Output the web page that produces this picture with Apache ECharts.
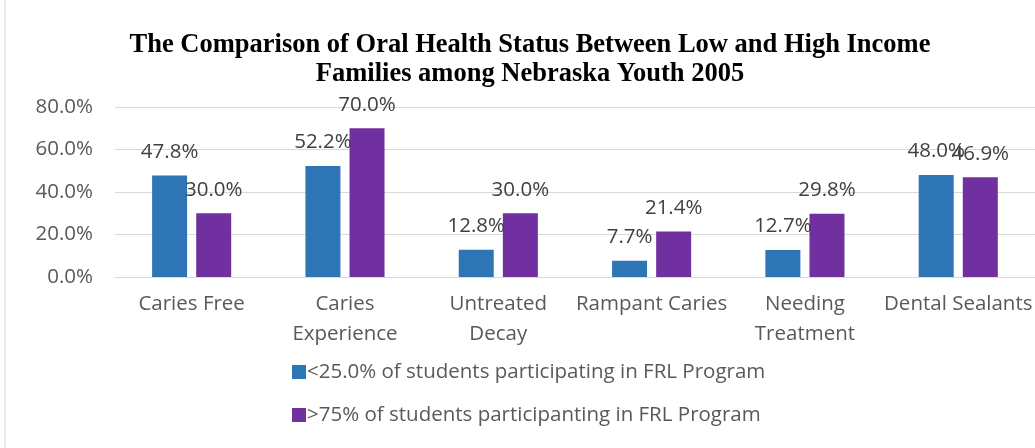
<!DOCTYPE html>
<html><head><meta charset="utf-8">
<script src="https://cdn.jsdelivr.net/npm/echarts@6/dist/echarts.min.js"></script>
<style>html,body{margin:0;padding:0;background:#fff}#c{width:1035px;height:448px}</style>
</head><body><div id="c"></div>
<script>
var categories = ['Caries Free', 'Caries\nExperience', 'Untreated\nDecay', 'Rampant Caries', 'Needing\nTreatment', 'Dental Sealants'];
var lowIncome = [47.8, 52.2, 12.8, 7.7, 12.7, 48.0];
var highIncome = [30.0, 70.0, 30.0, 21.4, 29.8, 46.9];
var seriesNames = ['<25.0% of students participating in FRL Program', '>75% of students participanting in FRL Program'];
var titleText = 'The Comparison of Oral Health Status Between Low and High Income\nFamilies among Nebraska Youth 2005';

var chart = echarts.init(document.getElementById('c'), null, {renderer: 'canvas'});
var font = '"Open Sans", "Noto Sans", sans-serif';
var lbl = {show: true, position: 'top', distance: 13, fontSize: 20.5, color: '#404040', fontFamily: font,
  formatter: function (p) { return p.value.toFixed(1) + '%'; }};
chart.setOption({
  animation: false,
  graphic: [{type: 'rect', shape: {x: 5, y: -2, width: 1040, height: 460}, style: {fill: 'none', stroke: '#d9d9d9', lineWidth: 1}, silent: true}],
  title: {text: titleText, left: 525, textAlign: 'center', top: 26,
    textStyle: {fontFamily: '"Liberation Serif", "Times New Roman", serif', fontWeight: 'bold', fontSize: 26.5, lineHeight: 29, color: '#000'}},
  grid: {left: 115, right: -6, top: 107, bottom: 171, containLabel: false},
  legend: {orient: 'vertical', left: 287, top: 356, itemWidth: 14, itemHeight: 14, itemGap: 21, icon: 'rect',
    textStyle: {fontSize: 20.5, color: '#595959', fontFamily: font, lineHeight: 22, padding: [0, 0, 0, -4]}},
  xAxis: {type: 'category', data: categories,
    axisLine: {show: true, lineStyle: {color: '#d9d9d9', width: 1}}, axisTick: {show: false},
    axisLabel: {fontSize: 20.5, color: '#595959', fontFamily: font, lineHeight: 30, margin: 12, interval: 0}},
  yAxis: {type: 'value', min: 0, max: 80, interval: 20,
    axisLine: {show: false}, axisTick: {show: false},
    splitLine: {lineStyle: {color: '#d9d9d9', width: 1}},
    axisLabel: {fontSize: 20.5, color: '#595959', fontFamily: font, margin: 22,
      formatter: function (v) { return v.toFixed(1) + '%'; }}},
  series: [
    {name: seriesNames[0], type: 'bar', data: lowIncome, barWidth: 35, barGap: '26%', itemStyle: {color: '#2E75B6'}, label: lbl},
    {name: seriesNames[1], type: 'bar', data: highIncome, barWidth: 35, itemStyle: {color: '#7030A0'}, label: lbl}
  ]
});
</script></body></html>
